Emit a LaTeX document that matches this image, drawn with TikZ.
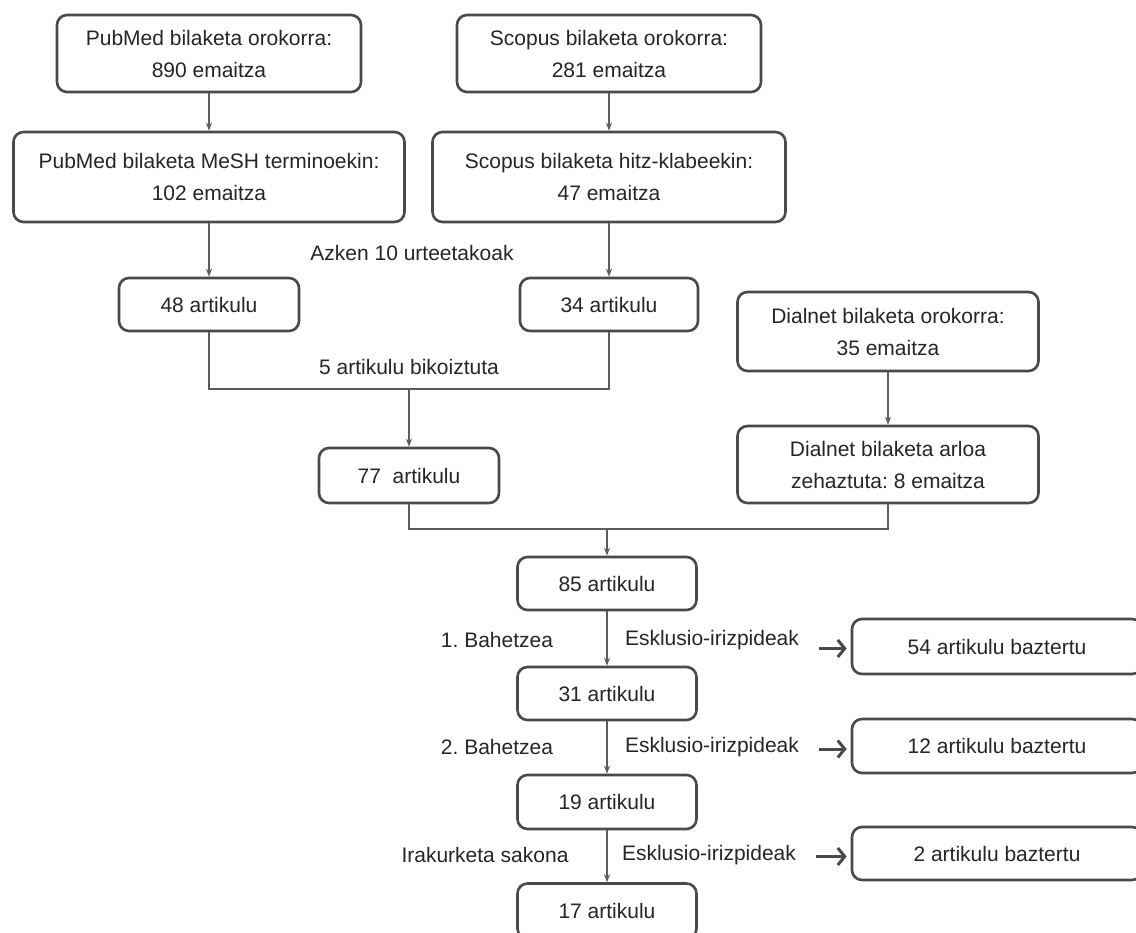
\documentclass[tikz,border=0pt]{standalone}
\usepackage{fontspec}
\setmainfont{Liberation Sans}
\usetikzlibrary{shapes,arrows.meta}
\usetikzlibrary{calc}
\definecolor{boxgray}{HTML}{4A4A4A}
\definecolor{linegray}{HTML}{5C5C5C}
\definecolor{txtgray}{HTML}{262626}
\frenchspacing

\begin{document}
\begin{tikzpicture}[x=1pt, y=-1pt,
	box/.style={draw=boxgray, line width=2.6pt, rounded corners=10pt, align=center, text=txtgray, inner sep=0pt, font=\fontsize{21}{32}\selectfont},
	lab/.style={text=txtgray, inner sep=0pt, font=\fontsize{21}{32}\selectfont},
	arr/.style={draw=linegray, line width=1.3pt, -{Stealth[length=8pt,width=6pt]}},
	line/.style={draw=linegray, line width=1.3pt},
	sidearr/.style={draw=boxgray, line width=3pt, -{Straight Barb[length=7pt,width=17pt]}, shorten <=20pt, shorten >=4pt}]
	\fill[white] (0,0) rectangle (1136,933);
	\clip (0,0) rectangle (1136,933);
	
	% searches
	\node[box, minimum width=304, minimum height=77] (pm1) at (209,53.5) {PubMed bilaketa orokorra:\\890 emaitza};
	\node[box, minimum width=304, minimum height=77] (sc1) at (609,53.5) {Scopus bilaketa orokorra:\\281 emaitza};
	\node[box, minimum width=391, minimum height=90] (pm2) at (209,177) {PubMed bilaketa MeSH terminoekin:\\102 emaitza};
	\node[box, minimum width=353, minimum height=90] (sc2) at (609,177) {Scopus bilaketa hitz-klabeekin:\\47 emaitza};
	\node[box, minimum width=180, minimum height=53] (a48) at (209,304.5) {48 artikulu};
	\node[box, minimum width=178, minimum height=53] (a34) at (609,304.5) {34 artikulu};
	\node[box, minimum width=301, minimum height=79] (dn1) at (888,331.5) {Dialnet bilaketa orokorra:\\35 emaitza};
	\node[box, minimum width=301, minimum height=77] (dn2) at (888,464.5) {Dialnet bilaketa arloa\\zehaztuta: 8 emaitza};
	\node[box, minimum width=180, minimum height=55] (a77) at (409,475.5) {77\ \ artikulu};
	
	% screening
	\node[box, minimum width=179, minimum height=53] (a85) at (607,583.5) {85 artikulu};
	\node[box, minimum width=179, minimum height=53] (a31) at (607,693.5) {31 artikulu};
	\node[box, minimum width=179, minimum height=54] (a19) at (607,802) {19 artikulu};
	\node[box, minimum width=179, minimum height=55] (a17) at (607,911) {17 artikulu};
	\node[box, minimum width=290, minimum height=55] (b54) at (997,646.5) {54 artikulu baztertu};
	\node[box, minimum width=290, minimum height=54] (b12) at (997,746) {12 artikulu baztertu};
	\node[box, minimum width=290, minimum height=53] (b2) at (997,853.5) {2 artikulu baztertu};
	
	\node[lab] (azken) at (412,253) {Azken 10 urteetakoak};
	\node[lab] (bikoiz) at (409,367) {5 artikulu bikoiztuta};
	\node[lab] (bah1) at (497,640) {1. Bahetzea};
	\node[lab] (esk1) at (712,640) {Esklusio-irizpideak};
	\node[lab] (bah2) at (497,747) {2. Bahetzea};
	\node[lab] (esk2) at (712,747) {Esklusio-irizpideak};
	\node[lab] (irak) at (485,855) {Irakurketa sakona};
	\node[lab] (esk3) at (709,855) {Esklusio-irizpideak};
	
	\draw[arr] (pm1) -- (pm2);
	\draw[arr] (pm2) -- (a48);
	\draw[arr] (sc1) -- (sc2);
	\draw[arr] (sc2) -- (a34);
	\draw[arr] (dn1) -- (dn2);
	
	\coordinate (j1) at (409,389);
	\draw[line] (a48.south) |- (j1) -| (a34.south);
	\draw[arr] (j1) -- (a77);
	\coordinate (j2) at (607,529);
	\draw[line] (a77.south) |- (j2) -| (dn2.south);
	\draw[arr] (j2) -- (a85);
	
	\draw[arr] (a85) -- (a31);
	\draw[arr] (a31) -- (a19);
	\draw[arr] (a19) -- (a17);
	
	\draw[sidearr] ([yshift=-2pt]esk1.east |- b54.west) -- ([yshift=-2pt]b54.west);
	\draw[sidearr] ([yshift=-3pt]esk2.east |- b12.west) -- ([yshift=-3pt]b12.west);
	\draw[sidearr] ([yshift=-3pt]esk3.east |- b2.west) -- ([yshift=-3pt]b2.west);
\end{tikzpicture}
\end{document}
